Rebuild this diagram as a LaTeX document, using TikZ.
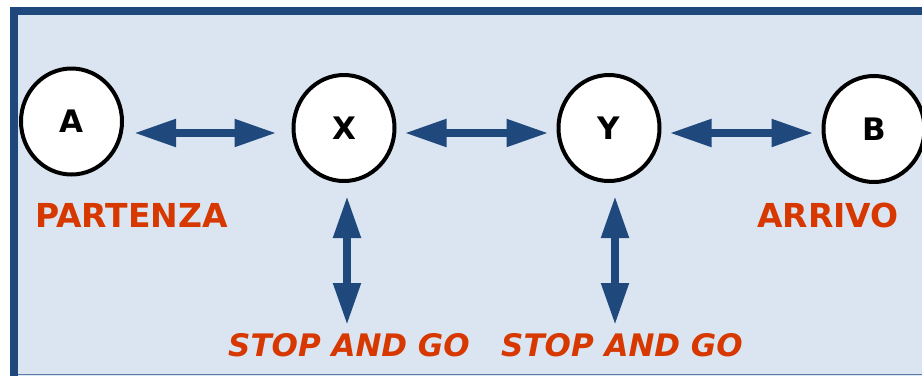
\documentclass[tikz,border=0pt]{standalone}
\usepackage{fontspec}
\setmainfont{DejaVu Sans}
\usetikzlibrary{arrows.meta,shapes.geometric}
\definecolor{panelbg}{HTML}{DBE5F1}
\definecolor{darkblue}{HTML}{1F497D}
\definecolor{redtxt}{RGB}{214,56,0}
\definecolor{lineblue}{HTML}{5A7CA8}
\tikzset{
  station/.style={ellipse, draw=black, line width=4pt, fill=white, inner sep=0pt,
    minimum width=101pt, minimum height=106pt,
    font=\fontsize{31}{31}\selectfont\bfseries},
  harr/.style={darkblue, line width=8pt,
    {Triangle[length=42pt,width=26pt]}-{Triangle[length=42pt,width=26pt]}},
  lbl/.style={text=redtxt, inner sep=0pt, font=\fontsize{33}{33}\selectfont\bfseries},
  slbl/.style={text=redtxt, inner sep=0pt, font=\fontsize{31}{31}\selectfont\bfseries\itshape}
}
\begin{document}
\begin{tikzpicture}[x=1pt,y=-1pt]
\useasboundingbox (0,0) rectangle (922,376);
\fill[white] (0,0) rectangle (922,376);
\fill[panelbg] (10,7) rectangle (922,376);
\draw[lineblue, line width=1.5pt] (10,374.5) -- (922,374.5);
\draw[darkblue, line width=8pt] (14,376) -- (14,11) -- (922,11);

\node[station] (A) at (71.5,121.5) {A};
\node[station] (X) at (344,128) {X};
\node[station] (Y) at (609,128) {Y};
\node[station] (B) at (874,129) {B};

\node[lbl, anchor=base west] (P) at (35,227) {PARTENZA};
\node[lbl, anchor=base west] (R) at (757,227) {ARRIVO};
\node[slbl, anchor=base] (S1) at (349,356) {STOP AND GO};
\node[slbl, anchor=base] (S2) at (622,356) {STOP AND GO};

\draw[harr] ([shift={(10,5)}]A.east |- X.center) -- ([shift={(-15,5)}]X.west);
\draw[harr] ([shift={(8,5)}]X.east) -- ([shift={(-8,5)}]Y.west);
\draw[harr] ([shift={(8,5)}]Y.east) -- ([shift={(-8,5)}]B.west |- Y.center);

\draw[harr] ([shift={(3,13)}]X.south) -- ([shift={(3,0)}]X.south |- 0,325);
\draw[harr] ([shift={(6,13)}]Y.south) -- ([shift={(6,0)}]Y.south |- 0,325);
\end{tikzpicture}
\end{document}
